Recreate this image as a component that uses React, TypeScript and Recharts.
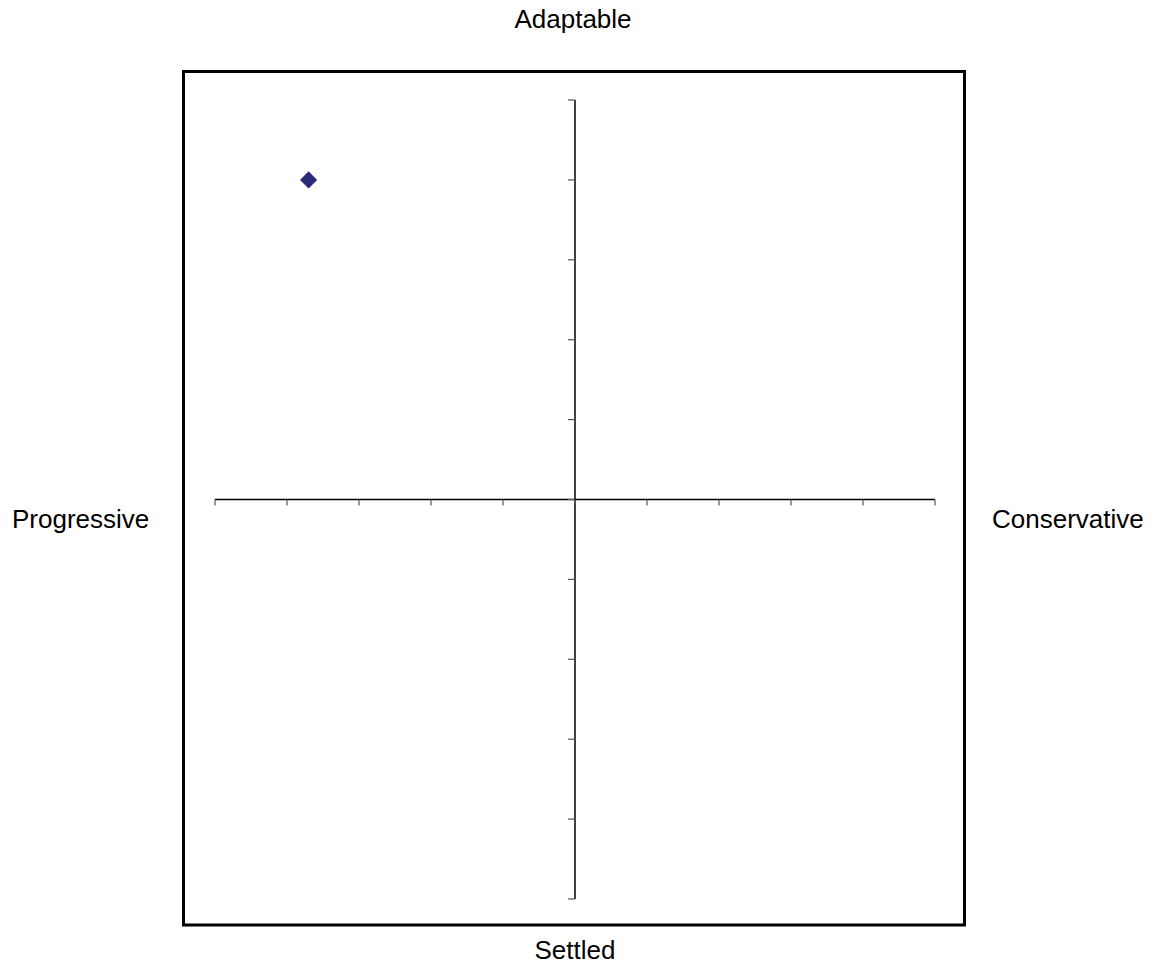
import React from "react";
import {
  ScatterChart,
  Scatter,
  XAxis,
  YAxis,
  ReferenceLine,
  ReferenceDot,
} from "recharts";

// ---- data ----
const xValues = [-3.7];
const yValues = [4];
const xTicks = [-5, -4, -3, -2, -1, 0, 1, 2, 3, 4, 5];
const yTicks = [-5, -4, -3, -2, -1, 0, 1, 2, 3, 4, 5];
const topLabel = "Adaptable";
const bottomLabel = "Settled";
const leftLabel = "Progressive";
const rightLabel = "Conservative";

const points = xValues.map((x, i) => ({ x, y: yValues[i] }));

const W = 1155;
const H = 966;
const FONT = "'Liberation Sans', Arial, sans-serif";
const MARKER = "#2B2A78";

const Diamond = (props: any) => {
  const { cx, cy } = props;
  if (cx == null || cy == null) return null;
  const r = 8.3;
  return (
    <polygon
      points={`${cx},${cy - r} ${cx + r},${cy} ${cx},${cy + r} ${cx - r},${cy}`}
      fill={MARKER}
      stroke={MARKER}
      strokeWidth={0.5}
    />
  );
};

const XTickMark = (props: any) => {
  const { cx, cy } = props;
  if (cx == null || cy == null) return null;
  return <line x1={cx} y1={cy} x2={cx} y2={cy + 6} stroke="#555" strokeWidth={1.2} />;
};

const YTickMark = (props: any) => {
  const { cx, cy } = props;
  if (cx == null || cy == null) return null;
  return <line x1={cx - 7} y1={cy} x2={cx} y2={cy} stroke="#555" strokeWidth={1.2} />;
};

export default function App() {
  return (
    <div style={{ position: "absolute", left: 0, top: 0, width: W, height: H, background: "#fff" }}>
      <svg
        width={W}
        height={H}
        style={{ position: "absolute", left: 0, top: 0 }}
      >
        <rect x={183.5} y={71.5} width={781} height={853.5} fill="none" stroke="#000" strokeWidth={3} />
        <text x={573} y={28} textAnchor="middle" fontFamily={FONT} fontSize={26} fill="#000">
          {topLabel}
        </text>
        <text x={575} y={959} textAnchor="middle" fontFamily={FONT} fontSize={26} fill="#000">
          {bottomLabel}
        </text>
        <text x={12} y={528} textAnchor="start" fontFamily={FONT} fontSize={26} fill="#000">
          {leftLabel}
        </text>
        <text x={992} y={528} textAnchor="start" fontFamily={FONT} fontSize={26} fill="#000">
          {rightLabel}
        </text>
      </svg>
      <div style={{ position: "absolute", left: 0, top: 0 }}>
        <ScatterChart
          width={W}
          height={H}
          margin={{ left: 215, right: 220, top: 100, bottom: 67 }}
        >
          <XAxis type="number" dataKey="x" domain={[-5, 5]} ticks={xTicks} hide />
          <YAxis type="number" dataKey="y" domain={[-5, 5]} ticks={yTicks} hide />
          <ReferenceLine x={0} stroke="#000" strokeWidth={1.5} />
          <ReferenceLine y={0} stroke="#000" strokeWidth={1.5} />
          {xTicks.map((t) => (
            <ReferenceDot key={`xt${t}`} x={t} y={0} shape={XTickMark} ifOverflow="visible" />
          ))}
          {yTicks.map((t) => (
            <ReferenceDot key={`yt${t}`} x={0} y={t} shape={YTickMark} ifOverflow="visible" />
          ))}
          <Scatter data={points} shape={<Diamond />} isAnimationActive={false} />
        </ScatterChart>
      </div>
    </div>
  );
}
